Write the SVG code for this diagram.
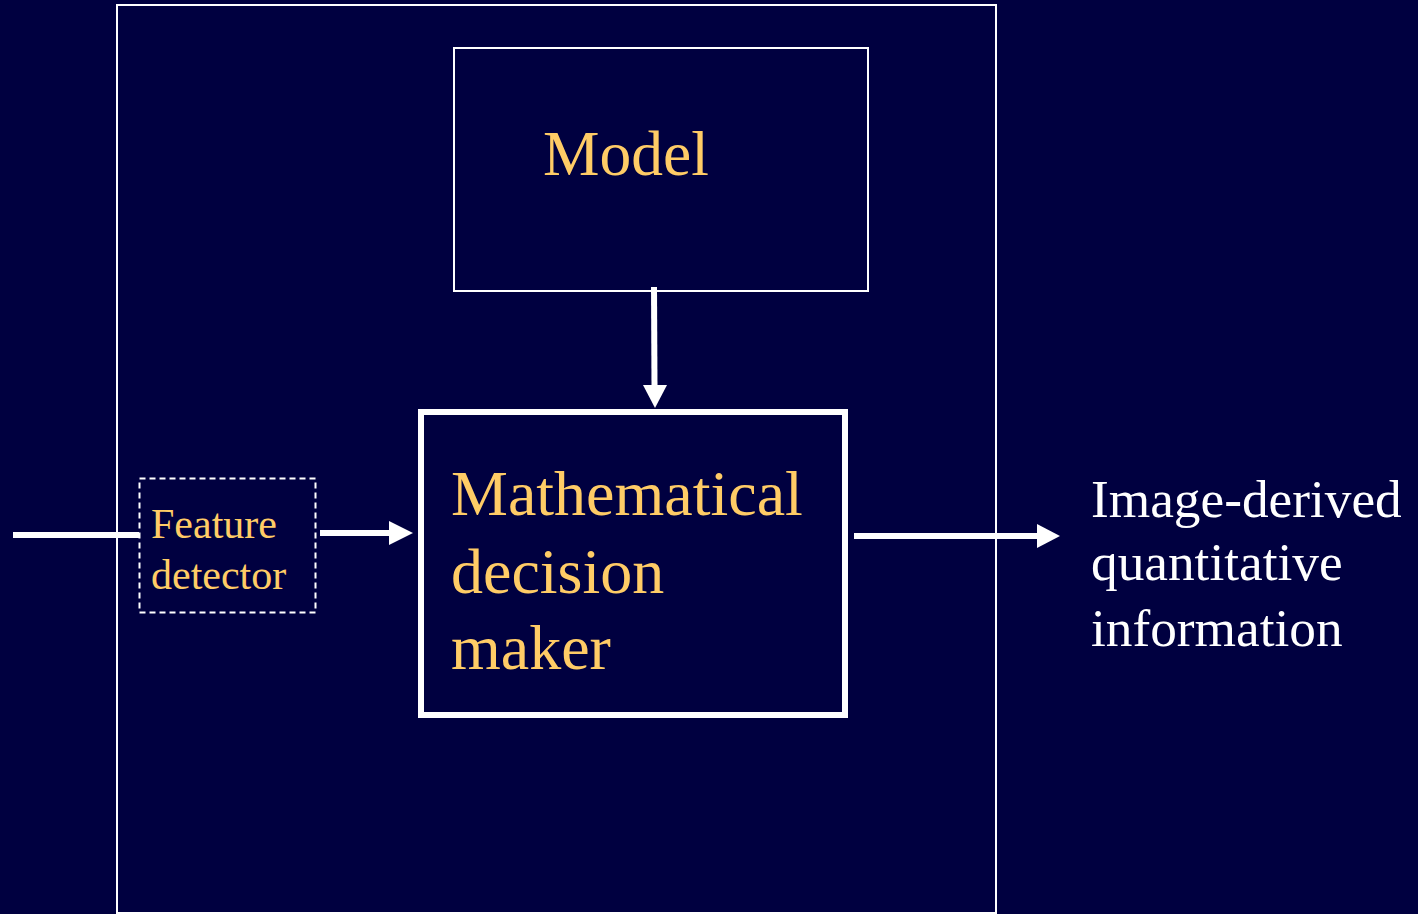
<svg xmlns="http://www.w3.org/2000/svg" width="1418" height="914" viewBox="0 0 1418 914">
<style>
.gold{fill:#FFCC66;font-family:"Liberation Serif","Times New Roman",serif;}
.white{fill:#FFFFFF;font-family:"Liberation Serif","Times New Roman",serif;}
.box{fill:none;stroke:#FFFFFF;}
.conn{stroke:#FFFFFF;stroke-width:6;fill:none;}
.head{fill:#FFFFFF;}
</style>
<rect width="1418" height="914" fill="#000040"/>
<g id="outer">
<rect class="box" x="117" y="5" width="879" height="908" stroke-width="2"/>
</g>
<g id="model">
<rect class="box" x="454" y="48" width="414" height="243" stroke-width="2"/>
<text class="gold" x="543" y="175" font-size="63.5">Model</text>
</g>
<g id="decision">
<rect class="box" x="421" y="412" width="424" height="303" stroke-width="6"/>
<text class="gold" font-size="64"><tspan x="451" y="515">Mathematical</tspan><tspan x="451" y="593">decision</tspan><tspan x="451" y="669">maker</tspan></text>
</g>
<g id="feature">
<rect class="box" x="139.5" y="478.5" width="176" height="134" stroke-width="2" stroke-dasharray="6,4"/>
<text class="gold" font-size="42"><tspan x="151" y="538">Feature</tspan><tspan x="151" y="589">detector</tspan></text>
</g>
<g id="output">
<text class="white" font-size="53.3"><tspan x="1091" y="517">Image-derived</tspan><tspan x="1091" y="580">quantitative</tspan><tspan x="1091" y="646">information</tspan></text>
</g>
<g id="connectors">
<line class="conn" x1="13" y1="535" x2="139" y2="535"/>
<line class="conn" x1="320" y1="533" x2="391" y2="533"/>
<polygon class="head" points="389,521 413,533 389,545"/>
<line class="conn" x1="654" y1="287" x2="654.5" y2="387"/>
<polygon class="head" points="643,385 667,385 655,408"/>
<line class="conn" x1="854" y1="536" x2="1039" y2="536"/>
<polygon class="head" points="1037,524 1060,536 1037,548"/>
</g>
</svg>
